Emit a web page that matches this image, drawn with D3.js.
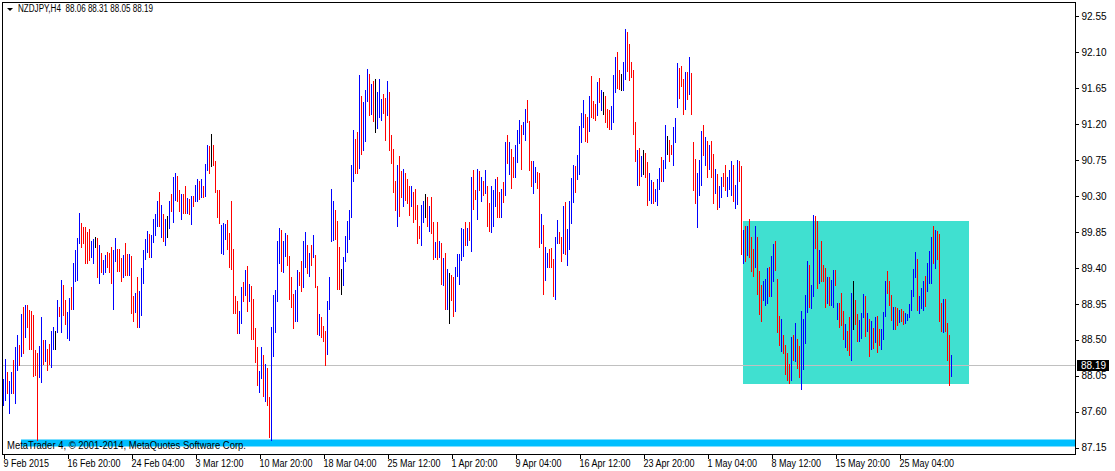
<!DOCTYPE html>
<html><head><meta charset="utf-8">
<script src="https://cdn.jsdelivr.net/npm/d3@7"></script>
<style>
html,body{margin:0;padding:0;background:#fff;}
svg{display:block;}
text{font-family:"Liberation Sans",Arial,sans-serif;}
</style></head><body>
<svg id="c" width="1115" height="471"></svg>
<script>
const symbolTitle = "NZDJPY,H4";
const lastOHLC = ["88.06","88.31","88.05","88.19"];
const lastPrice = 88.19;
const copyright = "MetaTrader 4, \u00a9 2001-2014, MetaQuotes Software Corp.";

const highs = [
88.01,88.26,88.10,87.98,88.10,88.25,88.41,88.56,88.43,88.82,
88.91,88.93,88.94,88.87,88.86,88.81,88.37,88.33,88.42,88.78,
88.50,88.50,88.38,88.45,88.61,88.66,88.61,89.00,88.91,89.25,
89.18,89.00,88.85,89.02,89.16,89.46,89.62,89.77,90.08,89.96,
89.91,89.91,89.85,89.89,89.73,89.76,89.79,89.77,89.68,89.58,
89.50,89.56,89.60,89.59,89.66,89.62,89.77,89.63,89.64,89.52,
89.56,89.71,89.57,89.57,89.55,89.05,89.08,89.28,89.11,89.40,
89.62,89.76,89.86,89.82,89.81,90.01,90.07,90.23,90.35,90.18,
90.07,90.01,90.05,90.23,90.32,90.54,90.59,90.55,90.37,90.32,
90.32,90.42,90.27,90.26,90.30,90.30,90.43,90.51,90.49,90.51,
90.42,90.70,90.94,90.92,91.08,90.94,90.73,90.37,90.37,89.94,
89.96,89.95,90.00,89.84,90.23,89.63,89.05,88.98,88.86,89.16,
89.22,89.37,89.42,89.20,89.17,89.01,88.65,88.41,88.11,88.41,
88.31,88.20,88.15,87.78,88.66,89.06,89.12,89.73,89.90,89.87,
89.73,89.84,89.81,89.55,89.28,89.07,89.12,89.37,89.35,89.48,
89.73,89.85,89.68,89.59,89.68,89.81,89.56,89.17,88.82,88.78,
88.67,88.61,88.99,89.28,90.39,90.23,90.12,89.98,89.66,89.39,
89.54,89.80,89.99,90.12,90.69,91.12,91.01,91.10,91.81,91.55,
91.47,91.62,91.89,91.83,91.70,91.74,91.76,91.60,91.76,91.51,
91.57,91.53,91.74,91.60,91.06,90.89,90.49,90.69,90.80,90.61,
90.64,90.59,90.51,90.42,90.42,90.35,90.39,90.19,89.92,90.18,
90.24,90.32,90.28,90.17,90.28,89.97,89.72,89.97,89.73,89.71,
89.52,89.59,89.39,89.34,89.31,89.28,89.41,89.57,89.57,89.90,
89.89,89.97,89.90,89.97,90.54,90.62,90.37,90.64,90.61,90.53,
90.49,90.62,90.42,90.21,90.42,90.37,90.51,90.53,90.35,90.39,
90.47,90.98,91.06,90.97,90.89,90.79,90.94,91.12,91.25,91.19,
91.23,91.39,91.50,91.24,90.74,90.73,90.66,90.60,90.59,90.07,
89.93,89.66,89.58,89.64,89.65,89.51,89.79,90.00,89.85,89.79,
90.17,90.22,89.89,90.23,90.52,90.69,90.67,90.81,91.17,91.34,
91.50,91.32,91.29,91.55,91.80,91.49,91.45,91.72,91.78,91.62,
91.60,91.55,91.39,91.38,91.42,91.81,92.04,92.10,91.87,91.82,
91.97,92.39,92.35,92.20,91.97,91.87,91.23,90.87,90.90,90.80,
90.87,90.84,90.72,90.59,90.50,90.47,90.39,90.51,90.65,90.79,
90.75,91.19,91.05,91.00,90.94,91.16,91.28,91.96,91.90,91.92,
91.76,91.85,91.85,92.04,91.84,90.98,90.76,90.58,90.75,91.11,
91.19,91.04,90.99,90.94,90.99,90.82,90.64,90.57,90.42,90.54,
90.59,90.69,90.54,90.62,90.74,90.69,90.44,90.75,90.73,90.67,
89.87,89.92,89.92,90.01,89.79,89.63,89.92,89.78,89.36,89.18,
89.23,89.26,89.40,89.41,89.55,89.70,89.73,89.26,88.80,88.76,
88.56,88.43,88.34,88.20,88.53,88.56,88.71,88.51,88.42,88.86,
88.76,89.06,89.49,89.43,89.19,90.06,90.05,89.98,89.62,89.73,
89.43,89.40,89.28,89.28,89.25,89.37,89.37,88.96,88.96,89.09,
88.86,88.70,88.61,88.78,89.08,89.23,89.00,88.82,88.75,88.84,
89.07,89.05,88.84,88.76,88.73,88.65,88.79,88.80,88.64,88.63,
88.85,89.23,89.36,89.24,89.06,88.91,88.91,88.90,88.87,88.88,
88.86,88.83,88.82,88.95,89.12,89.38,89.60,89.51,89.05,89.15,
89.23,89.30,89.46,89.61,89.79,89.92,89.87,89.86,89.82,88.96,
89.01,89.01,88.71,88.56,88.31
];

const lows = [
87.68,87.75,87.83,87.59,87.83,87.84,87.71,88.12,88.19,88.30,
88.34,88.54,88.66,88.39,88.38,88.05,88.06,87.25,88.04,87.97,
88.20,88.24,88.12,88.20,88.16,88.39,88.39,88.60,88.80,88.60,
88.81,88.70,88.52,88.50,88.88,88.89,89.24,89.25,89.71,89.66,
89.71,89.46,89.46,89.50,89.54,89.46,89.66,89.28,89.21,89.35,
89.32,89.35,89.41,89.35,89.21,88.89,89.48,89.36,89.36,89.24,
89.28,89.31,89.31,89.31,88.83,88.73,88.85,88.66,88.66,88.81,
89.21,89.51,89.60,89.53,89.53,89.72,89.81,89.92,89.92,89.79,
89.74,89.69,89.79,89.90,90.11,89.97,90.25,90.24,90.11,90.01,
90.09,90.08,90.08,90.07,89.95,90.17,90.24,90.24,90.26,90.29,
90.29,90.30,90.62,90.58,90.67,90.69,90.35,90.04,89.96,89.58,
89.57,89.76,89.63,89.41,89.39,88.84,88.84,88.59,88.59,88.71,
88.98,89.06,88.86,88.98,88.51,88.51,88.22,87.94,87.85,88.02,
87.80,87.74,87.68,87.28,87.25,88.30,88.60,88.98,89.46,89.36,
89.35,89.55,89.44,89.01,88.91,88.65,88.73,88.74,89.18,89.11,
89.16,89.41,89.34,89.30,89.44,89.54,89.16,88.57,88.56,88.54,
88.48,88.19,88.32,88.88,89.73,89.75,89.76,89.14,89.14,89.07,
89.18,89.49,89.60,89.76,90.04,90.48,90.59,90.59,90.65,90.82,
90.87,90.99,91.49,91.31,91.32,91.24,91.10,91.15,91.29,91.25,
91.34,91.00,91.31,90.87,90.71,90.35,90.12,89.92,90.05,90.28,
90.17,90.25,90.21,90.06,90.17,89.97,90.01,89.71,89.77,89.68,
89.97,90.03,89.92,89.86,89.83,89.51,89.54,89.51,89.53,89.20,
89.19,88.88,88.89,88.71,89.00,88.80,88.86,89.30,89.20,89.50,
89.55,89.69,89.69,89.75,89.61,90.14,90.26,90.01,90.37,90.23,
90.31,90.33,89.92,89.86,89.85,89.92,90.17,90.04,90.03,90.03,
90.22,90.31,90.71,90.57,90.40,90.54,90.53,90.72,90.96,90.64,
91.08,91.00,91.22,90.62,90.42,90.34,90.47,90.40,89.66,89.71,
89.07,89.25,89.41,89.41,89.41,89.05,89.01,89.71,89.71,89.49,
89.58,89.57,89.44,89.64,89.96,90.22,90.35,90.51,90.57,90.97,
91.16,90.99,90.98,91.11,91.29,91.27,91.25,91.31,91.48,91.37,
91.32,91.23,91.16,91.14,91.14,91.23,91.60,91.65,91.64,91.63,
91.62,91.76,91.86,91.75,91.79,91.07,90.73,90.44,90.43,90.55,
90.57,90.53,90.19,90.25,90.21,90.21,90.23,90.18,90.38,90.48,
90.48,90.65,90.82,90.74,90.82,90.68,90.98,91.41,91.53,91.68,
91.32,91.39,91.51,91.57,91.32,90.37,90.21,89.91,90.31,90.44,
90.81,90.69,90.54,90.64,90.53,90.21,90.33,90.14,90.16,90.29,
90.42,90.37,90.30,90.39,90.31,90.23,90.15,90.20,90.48,89.57,
89.46,89.48,89.56,89.53,89.36,89.30,89.41,89.07,88.82,88.74,
89.00,88.93,88.96,89.05,89.05,89.23,89.37,88.60,88.43,88.36,
88.34,88.07,88.00,87.96,88.00,88.25,88.24,88.15,88.04,87.88,
88.14,88.46,88.85,88.91,88.90,89.05,89.65,89.15,89.21,89.23,
89.23,88.91,88.96,88.94,88.93,88.91,89.19,88.76,88.66,88.69,
88.51,88.41,88.37,88.31,88.25,88.63,88.70,88.48,88.48,88.52,
88.79,88.55,88.61,88.30,88.38,88.40,88.47,88.35,88.44,88.38,
88.51,88.80,89.08,88.93,88.75,88.63,88.64,88.68,88.72,88.73,
88.70,88.71,88.75,88.78,88.87,89.05,89.29,88.87,88.84,88.90,
88.87,88.92,89.11,89.21,89.21,89.46,89.40,89.51,88.73,88.61,
88.60,88.61,88.25,87.93,88.05
];

// 1 = up bar (blue), -1 = down bar (red), 0 = unchanged (black)
const dirs = [
1,1,-1,1,1,-1,1,1,-1,1, -1,1,-1,-1,-1,-1,-1,-1,1,1,
-1,1,-1,-1,1,1,0,1,-1,1, -1,-1,1,1,-1,1,1,1,1,-1,
-1,-1,-1,-1,1,1,0,-1,1,-1, 1,1,-1,-1,-1,1,1,-1,-1,-1,
1,-1,-1,1,-1,-1,1,-1,1,1, 1,1,1,-1,1,1,1,1,-1,1,
-1,1,0,1,-1,1,1,-1,-1,1, -1,-1,1,-1,1,-1,1,1,-1,1,
-1,1,1,-1,0,-1,-1,-1,-1,1, 1,1,-1,-1,-1,-1,-1,-1,1,1,
-1,1,-1,1,-1,-1,-1,-1,1,1, -1,1,-1,-1,1,1,1,1,1,-1,
1,1,-1,-1,-1,-1,1,1,-1,-1, 1,1,-1,1,-1,1,-1,-1,1,-1,
-1,-1,1,1,1,1,-1,-1,-1,0, 1,1,1,1,1,1,-1,-1,1,-1,
1,1,1,-1,1,-1,0,1,1,1, -1,-1,1,-1,-1,-1,-1,1,-1,-1,
1,-1,-1,-1,1,-1,-1,-1,-1,1, 1,0,-1,1,-1,-1,1,-1,1,-1,
1,-1,1,0,-1,-1,1,1,1,1, 1,-1,1,-1,1,-1,-1,1,-1,1,
-1,1,-1,-1,1,1,1,-1,-1,1, -1,1,-1,1,-1,-1,1,1,1,-1,
1,1,-1,-1,-1,1,1,-1,-1,1, -1,1,1,-1,-1,-1,1,1,-1,-1,
1,-1,1,1,1,1,-1,1,1,1, 1,-1,-1,1,-1,-1,-1,1,-1,1,
0,-1,-1,-1,1,1,1,-1,-1,0, 1,1,-1,-1,-1,-1,-1,1,-1,1,
0,-1,-1,1,1,-1,1,1,1,-1, 1,1,0,-1,-1,1,1,1,-1,-1,
-1,1,-1,1,-1,-1,-1,1,1,1, -1,1,-1,1,-1,-1,1,-1,1,1,
-1,-1,1,1,1,-1,1,1,-1,-1, 1,-1,1,-1,-1,-1,1,-1,-1,-1,
1,1,1,-1,1,1,-1,-1,-1,1, -1,-1,-1,-1,1,-1,1,-1,-1,1,
1,1,1,-1,1,1,-1,-1,1,-1, -1,-1,1,-1,1,1,-1,1,-1,-1,
-1,1,-1,-1,1,0,-1,-1,1,1, 1,-1,1,-1,1,-1,1,-1,-1,1,
1,1,-1,-1,-1,1,-1,-1,1,-1, -1,1,1,1,1,1,1,-1,1,1,
1,-1,1,1,1,-1,1,-1,-1,-1, 1,-1,-1,-1,1
];

const priceTicks = [92.55,92.10,91.65,91.20,90.75,90.30,89.85,89.40,88.95,88.50,88.05,87.60,87.15];
const timeLabels = ["9 Feb 2015","16 Feb 20:00","24 Feb 04:00","3 Mar 12:00","10 Mar 20:00","18 Mar 04:00","25 Mar 12:00","1 Apr 20:00","9 Apr 04:00","16 Apr 12:00","23 Apr 20:00","1 May 04:00","8 May 12:00","15 May 20:00","25 May 04:00"];
const timeLabelBars = [0,32,64,96,128,160,192,224,256,288,320,352,384,416,448];

// rectangle object: bar index span and price span
const zoneBars = [370, 483];
const zonePrices = [89.99, 87.95];

const W = 1115, H = 471;
const plot = {left: 2, right: 1075, top: 2, bottom: 454};
const svg = d3.select("#c");

const x = d3.scaleLinear().domain([0, highs.length - 1]).range([3, 3 + 2 * (highs.length - 1)]);
const y = d3.scaleLinear().domain([87.15, 92.55]).range([447.7, 16]);

const colors = {"1": "#0000ff", "-1": "#ff0000", "0": "#000000"};

svg.append("rect").attr("x",0).attr("y",0).attr("width",W).attr("height",H).attr("fill","#fff");

// rectangle object
svg.append("rect")
  .attr("x", x(zoneBars[0])).attr("y", Math.round(y(zonePrices[0])))
  .attr("width", x(zoneBars[1]) - x(zoneBars[0]))
  .attr("height", Math.round(y(zonePrices[1])) - Math.round(y(zonePrices[0])))
  .attr("fill", "#40e0d0");

// bottom info bar
svg.append("rect").attr("x", 21).attr("y", 439.5).attr("width", plot.right - 21).attr("height", 7)
  .attr("fill", "#00bfff");

// bid line
svg.append("line").attr("x1", plot.left).attr("x2", plot.right)
  .attr("y1", Math.round(y(lastPrice)) + 0.5).attr("y2", Math.round(y(lastPrice)) + 0.5)
  .attr("stroke", "#c0c0c0").attr("stroke-width", 1);

// bars
const idx = d3.range(highs.length);
svg.append("g").attr("shape-rendering","crispEdges")
  .selectAll("rect").data(idx).join("rect")
  .attr("x", i => x(i))
  .attr("y", i => Math.round(y(highs[i])))
  .attr("width", 1)
  .attr("height", i => Math.max(1, Math.round(y(lows[i])) - Math.round(y(highs[i])) + 1))
  .attr("fill", i => colors[String(dirs[i])]);

// frame
svg.append("rect").attr("x", plot.left + 0.5).attr("y", plot.top + 0.5)
  .attr("width", plot.right - plot.left).attr("height", plot.bottom - plot.top)
  .attr("fill", "none").attr("stroke", "#000").attr("stroke-width", 1).attr("shape-rendering","crispEdges");

// right price axis
const yAxis = d3.axisRight(y).tickValues(priceTicks).tickFormat(d3.format(".2f")).tickSize(3).tickPadding(3);
const ya = svg.append("g").attr("transform", `translate(${plot.right + 0.5},0)`).call(yAxis);
ya.select(".domain").remove();
ya.selectAll("line").attr("stroke","#000").attr("shape-rendering","crispEdges");
ya.selectAll("text").attr("font-size", 10).attr("fill","#000").attr("font-family", null);

// last price label
const ly = Math.round(y(lastPrice));
svg.append("rect").attr("x", plot.right + 2).attr("y", ly - 5).attr("width", 32).attr("height", 11).attr("fill","#000");
svg.append("text").attr("x", plot.right + 6).attr("y", ly + 4).attr("font-size", 10).attr("fill","#fff")
  .text(lastPrice.toFixed(2));

// time axis: ticks through the axis generator, labels compressed horizontally
const xa = svg.append("g").attr("transform", `translate(0,${plot.bottom + 0.5})`)
  .call(d3.axisBottom(x).tickValues(timeLabelBars).tickFormat("").tickSize(4));
xa.select(".domain").remove();
xa.selectAll("line").attr("stroke","#000").attr("transform","translate(0.5,0)").attr("shape-rendering","crispEdges");
svg.append("g").selectAll("text").data(timeLabelBars).join("text")
  .attr("transform", d => `translate(${x(d) + 0.5},467) scale(0.9,1)`)
  .attr("font-size", 10).attr("fill", "#000")
  .text((d, k) => timeLabels[k]);

// header
svg.append("path").attr("d","M7,8 L13,8 L10,11 Z").attr("fill","#000");
svg.append("text").attr("x", 18).attr("y", 12).attr("font-size", 10).attr("fill","#000")
  .style("white-space", "pre")
  .attr("textLength", 135).attr("lengthAdjust", "spacingAndGlyphs")
  .text(symbolTitle + "  " + lastOHLC.join(" "));

// copyright
svg.append("text").attr("x", 7).attr("y", 449).attr("font-size", 10).attr("fill","#000")
  .attr("textLength", 239).attr("lengthAdjust", "spacingAndGlyphs")
  .text(copyright);
</script>
</body></html>
